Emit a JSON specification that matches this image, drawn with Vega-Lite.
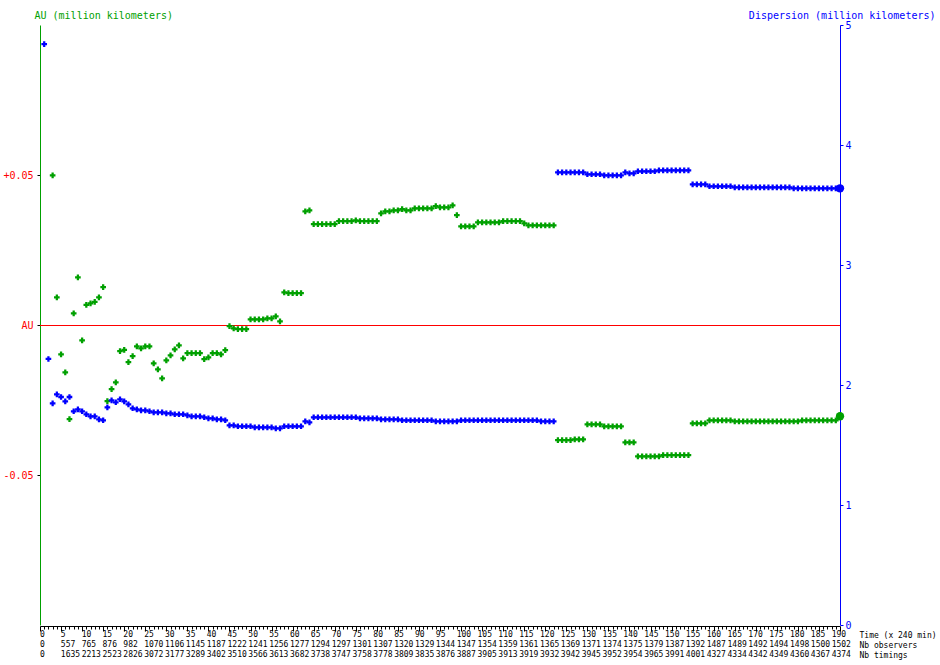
{
  "$schema": "https://vega.github.io/schema/vega-lite/v6.json",
  "width": 800,
  "height": 600,
  "autosize": {"type": "none"},
  "padding": {"left": 40, "top": 25, "right": 100, "bottom": 40},
  "background": "white",
  "config": {"view": {"stroke": null}, "font": "DejaVu Sans Mono"},
  "datasets": {
    "series": [
      {"t":1,"au":null,"disp":4.84},{"t":2,"au":null,"disp":2.217},{"t":3,"au":0.0499,"disp":1.847},{"t":4,"au":0.0092,"disp":1.922},
      {"t":5,"au":-0.0098,"disp":1.9},{"t":6,"au":-0.0158,"disp":1.864},{"t":7,"au":-0.0314,"disp":1.9},{"t":8,"au":0.0039,"disp":1.781},
      {"t":9,"au":0.0159,"disp":1.797},{"t":10,"au":-0.0051,"disp":1.781},{"t":11,"au":0.0067,"disp":1.756},{"t":12,"au":0.0072,"disp":1.739},
      {"t":13,"au":0.0077,"disp":1.739},{"t":14,"au":0.0092,"disp":1.714},{"t":15,"au":0.0126,"disp":1.706},{"t":16,"au":-0.0254,"disp":1.814},
      {"t":17,"au":-0.0214,"disp":1.872},{"t":18,"au":-0.0191,"disp":1.856},{"t":19,"au":-0.0087,"disp":1.881},{"t":20,"au":-0.0083,"disp":1.864},
      {"t":21,"au":-0.0124,"disp":1.839},{"t":22,"au":-0.0104,"disp":1.806},{"t":23,"au":-0.0071,"disp":1.797},{"t":24,"au":-0.0078,"disp":1.789},
      {"t":25,"au":-0.0071,"disp":1.789},{"t":26,"au":-0.0071,"disp":1.781},{"t":27,"au":-0.0128,"disp":1.772},{"t":28,"au":-0.0148,"disp":1.772},
      {"t":29,"au":-0.0178,"disp":1.772},{"t":30,"au":-0.0118,"disp":1.764},{"t":31,"au":-0.0101,"disp":1.764},{"t":32,"au":-0.0081,"disp":1.756},
      {"t":33,"au":-0.0068,"disp":1.756},{"t":34,"au":-0.0111,"disp":1.756},{"t":35,"au":-0.0094,"disp":1.747},{"t":36,"au":-0.0094,"disp":1.739},
      {"t":37,"au":-0.0094,"disp":1.739},{"t":38,"au":-0.0094,"disp":1.739},{"t":39,"au":-0.0114,"disp":1.731},{"t":40,"au":-0.0108,"disp":1.722},
      {"t":41,"au":-0.0094,"disp":1.722},{"t":42,"au":-0.0094,"disp":1.714},{"t":43,"au":-0.0098,"disp":1.714},{"t":44,"au":-0.0084,"disp":1.706},
      {"t":45,"au":-0.0004,"disp":1.664},{"t":46,"au":-0.0011,"disp":1.664},{"t":47,"au":-0.0014,"disp":1.656},{"t":48,"au":-0.0014,"disp":1.656},
      {"t":49,"au":-0.0014,"disp":1.656},{"t":50,"au":0.0019,"disp":1.656},{"t":51,"au":0.0019,"disp":1.647},{"t":52,"au":0.0019,"disp":1.647},
      {"t":53,"au":0.0019,"disp":1.647},{"t":54,"au":0.0022,"disp":1.647},{"t":55,"au":0.0022,"disp":1.647},{"t":56,"au":0.0029,"disp":1.639},
      {"t":57,"au":0.0012,"disp":1.639},{"t":58,"au":0.0109,"disp":1.656},{"t":59,"au":0.0106,"disp":1.656},{"t":60,"au":0.0106,"disp":1.656},
      {"t":61,"au":0.0106,"disp":1.656},{"t":62,"au":0.0106,"disp":1.656},{"t":63,"au":0.0379,"disp":1.697},{"t":64,"au":0.0382,"disp":1.689},
      {"t":65,"au":0.0336,"disp":1.731},{"t":66,"au":0.0336,"disp":1.731},{"t":67,"au":0.0336,"disp":1.731},{"t":68,"au":0.0336,"disp":1.731},
      {"t":69,"au":0.0336,"disp":1.731},{"t":70,"au":0.0336,"disp":1.731},{"t":71,"au":0.0346,"disp":1.731},{"t":72,"au":0.0346,"disp":1.731},
      {"t":73,"au":0.0346,"disp":1.731},{"t":74,"au":0.0346,"disp":1.731},{"t":75,"au":0.0349,"disp":1.731},{"t":76,"au":0.0346,"disp":1.722},
      {"t":77,"au":0.0346,"disp":1.722},{"t":78,"au":0.0346,"disp":1.722},{"t":79,"au":0.0346,"disp":1.722},{"t":80,"au":0.0346,"disp":1.722},
      {"t":81,"au":0.0372,"disp":1.714},{"t":82,"au":0.0379,"disp":1.714},{"t":83,"au":0.0379,"disp":1.714},{"t":84,"au":0.0382,"disp":1.714},
      {"t":85,"au":0.0382,"disp":1.714},{"t":86,"au":0.0386,"disp":1.706},{"t":87,"au":0.0382,"disp":1.706},{"t":88,"au":0.0382,"disp":1.706},
      {"t":89,"au":0.0389,"disp":1.706},{"t":90,"au":0.0389,"disp":1.706},{"t":91,"au":0.0389,"disp":1.706},{"t":92,"au":0.0389,"disp":1.706},
      {"t":93,"au":0.0389,"disp":1.706},{"t":94,"au":0.0396,"disp":1.697},{"t":95,"au":0.0392,"disp":1.697},{"t":96,"au":0.0392,"disp":1.697},
      {"t":97,"au":0.0392,"disp":1.697},{"t":98,"au":0.0399,"disp":1.697},{"t":99,"au":0.0366,"disp":1.697},{"t":100,"au":0.0329,"disp":1.706},
      {"t":101,"au":0.0329,"disp":1.706},{"t":102,"au":0.0329,"disp":1.706},{"t":103,"au":0.0329,"disp":1.706},{"t":104,"au":0.0342,"disp":1.706},
      {"t":105,"au":0.0342,"disp":1.706},{"t":106,"au":0.0342,"disp":1.706},{"t":107,"au":0.0342,"disp":1.706},{"t":108,"au":0.0342,"disp":1.706},
      {"t":109,"au":0.0342,"disp":1.706},{"t":110,"au":0.0346,"disp":1.706},{"t":111,"au":0.0346,"disp":1.706},{"t":112,"au":0.0346,"disp":1.706},
      {"t":113,"au":0.0346,"disp":1.706},{"t":114,"au":0.0346,"disp":1.706},{"t":115,"au":0.0339,"disp":1.706},{"t":116,"au":0.0332,"disp":1.706},
      {"t":117,"au":0.0332,"disp":1.706},{"t":118,"au":0.0332,"disp":1.706},{"t":119,"au":0.0332,"disp":1.697},{"t":120,"au":0.0332,"disp":1.697},
      {"t":121,"au":0.0332,"disp":1.697},{"t":122,"au":0.0332,"disp":1.697},{"t":123,"au":-0.0384,"disp":3.772},{"t":124,"au":-0.0384,"disp":3.772},
      {"t":125,"au":-0.0384,"disp":3.772},{"t":126,"au":-0.0384,"disp":3.772},{"t":127,"au":-0.0381,"disp":3.772},{"t":128,"au":-0.0381,"disp":3.772},
      {"t":129,"au":-0.0381,"disp":3.772},{"t":130,"au":-0.0331,"disp":3.756},{"t":131,"au":-0.0331,"disp":3.756},{"t":132,"au":-0.0331,"disp":3.756},
      {"t":133,"au":-0.0331,"disp":3.756},{"t":134,"au":-0.0338,"disp":3.747},{"t":135,"au":-0.0338,"disp":3.747},{"t":136,"au":-0.0338,"disp":3.747},
      {"t":137,"au":-0.0338,"disp":3.747},{"t":138,"au":-0.0338,"disp":3.747},{"t":139,"au":-0.0391,"disp":3.772},{"t":140,"au":-0.0391,"disp":3.764},
      {"t":141,"au":-0.0391,"disp":3.764},{"t":142,"au":-0.0438,"disp":3.781},{"t":143,"au":-0.0438,"disp":3.781},{"t":144,"au":-0.0438,"disp":3.781},
      {"t":145,"au":-0.0438,"disp":3.781},{"t":146,"au":-0.0438,"disp":3.781},{"t":147,"au":-0.0438,"disp":3.789},{"t":148,"au":-0.0434,"disp":3.789},
      {"t":149,"au":-0.0434,"disp":3.789},{"t":150,"au":-0.0434,"disp":3.789},{"t":151,"au":-0.0434,"disp":3.789},{"t":152,"au":-0.0434,"disp":3.789},
      {"t":153,"au":-0.0434,"disp":3.789},{"t":154,"au":-0.0434,"disp":3.789},{"t":155,"au":-0.0328,"disp":3.672},{"t":156,"au":-0.0328,"disp":3.672},
      {"t":157,"au":-0.0328,"disp":3.672},{"t":158,"au":-0.0328,"disp":3.672},{"t":159,"au":-0.0318,"disp":3.656},{"t":160,"au":-0.0318,"disp":3.656},
      {"t":161,"au":-0.0318,"disp":3.656},{"t":162,"au":-0.0318,"disp":3.656},{"t":163,"au":-0.0318,"disp":3.656},{"t":164,"au":-0.0318,"disp":3.656},
      {"t":165,"au":-0.0321,"disp":3.647},{"t":166,"au":-0.0321,"disp":3.647},{"t":167,"au":-0.0321,"disp":3.647},{"t":168,"au":-0.0321,"disp":3.647},
      {"t":169,"au":-0.0321,"disp":3.647},{"t":170,"au":-0.0321,"disp":3.647},{"t":171,"au":-0.0321,"disp":3.647},{"t":172,"au":-0.0321,"disp":3.647},
      {"t":173,"au":-0.0321,"disp":3.647},{"t":174,"au":-0.0321,"disp":3.647},{"t":175,"au":-0.0321,"disp":3.647},{"t":176,"au":-0.0321,"disp":3.647},
      {"t":177,"au":-0.0321,"disp":3.647},{"t":178,"au":-0.0321,"disp":3.647},{"t":179,"au":-0.0321,"disp":3.639},{"t":180,"au":-0.0321,"disp":3.639},
      {"t":181,"au":-0.0318,"disp":3.639},{"t":182,"au":-0.0318,"disp":3.639},{"t":183,"au":-0.0318,"disp":3.639},{"t":184,"au":-0.0318,"disp":3.639},
      {"t":185,"au":-0.0318,"disp":3.639},{"t":186,"au":-0.0318,"disp":3.639},{"t":187,"au":-0.0318,"disp":3.639},{"t":188,"au":-0.0318,"disp":3.639},
      {"t":189,"au":-0.0318,"disp":3.639},{"t":190,"au":-0.0304,"disp":3.639}
    ],
    "counts": [
      {"t":0,"obs":0,"tim":0},{"t":5,"obs":557,"tim":1635},{"t":10,"obs":765,"tim":2213},{"t":15,"obs":876,"tim":2523},
      {"t":20,"obs":982,"tim":2826},{"t":25,"obs":1070,"tim":3072},{"t":30,"obs":1106,"tim":3177},{"t":35,"obs":1145,"tim":3289},
      {"t":40,"obs":1187,"tim":3402},{"t":45,"obs":1222,"tim":3510},{"t":50,"obs":1241,"tim":3566},{"t":55,"obs":1256,"tim":3613},
      {"t":60,"obs":1277,"tim":3682},{"t":65,"obs":1294,"tim":3738},{"t":70,"obs":1297,"tim":3747},{"t":75,"obs":1301,"tim":3758},
      {"t":80,"obs":1307,"tim":3778},{"t":85,"obs":1320,"tim":3809},{"t":90,"obs":1329,"tim":3835},{"t":95,"obs":1344,"tim":3876},
      {"t":100,"obs":1347,"tim":3887},{"t":105,"obs":1354,"tim":3905},{"t":110,"obs":1359,"tim":3913},{"t":115,"obs":1361,"tim":3919},
      {"t":120,"obs":1365,"tim":3932},{"t":125,"obs":1369,"tim":3942},{"t":130,"obs":1371,"tim":3945},{"t":135,"obs":1374,"tim":3952},
      {"t":140,"obs":1375,"tim":3954},{"t":145,"obs":1379,"tim":3965},{"t":150,"obs":1387,"tim":3991},{"t":155,"obs":1392,"tim":4001},
      {"t":160,"obs":1487,"tim":4327},{"t":165,"obs":1489,"tim":4334},{"t":170,"obs":1492,"tim":4342},{"t":175,"obs":1494,"tim":4349},
      {"t":180,"obs":1498,"tim":4360},{"t":185,"obs":1500,"tim":4367},{"t":190,"obs":1502,"tim":4374}
    ]
  },
  "layer": [
    {
      "encoding": {
        "x": {
          "field": "t",
          "type": "quantitative",
          "scale": {"domain": [0, 190], "nice": false, "zero": false},
          "axis": {
            "orient": "bottom",
            "offset": 1,
            "tickCount": 190,
            "labels": false,
            "domainColor": "black",
            "tickColor": "black",
            "tickSize": {"condition": {"test": "datum.value % 5 == 0", "value": 5}, "value": 3},
            "grid": false,
            "title": ["Time (x 240 min)", "Nb observers", "Nb timings"],
            "titleFont": "DejaVu Sans Mono",
            "titleFontSize": 8,
            "titleFontWeight": "normal",
            "titleColor": "black",
            "titleAlign": "left",
            "titleAnchor": "start",
            "titleBaseline": "alphabetic",
            "titleAngle": 0,
            "titleX": 819,
            "titleY": 11,
            "titleLineHeight": 10
          }
        }
      },
      "layer": [
        {
          "encoding": {
            "y": {
              "field": "au",
              "type": "quantitative",
              "scale": {"domain": [-0.1, 0.1], "nice": false, "zero": false},
              "axis": {
                "orient": "left",
                "values": [-0.05, 0, 0.05],
                "labelExpr": "datum.value == 0 ? 'AU' : (datum.value > 0 ? '+' : '-') + format(abs(datum.value), '.2f')",
                "domainColor": "#00a000",
                "tickColor": "black",
                "tickSize": 3,
                "labelColor": "#ff0000",
                "labelFont": "DejaVu Sans Mono",
                "labelFontSize": 10,
                "labelPadding": 4,
                "grid": false,
                "title": "AU (million kilometers)",
                "titleColor": "#00a000",
                "titleFont": "DejaVu Sans Mono",
                "titleFontSize": 10,
                "titleFontWeight": "normal",
                "titleAngle": 0,
                "titleAlign": "left",
                "titleBaseline": "alphabetic",
                "titleX": -6,
                "titleY": -7
              }
            }
          },
          "layer": [
            {
              "data": {"values": [{"t": 0, "t2": 190, "au": 0}]},
              "mark": {"type": "rule", "color": "#ff0000", "strokeWidth": 1, "yOffset": 0.5},
              "encoding": {"x2": {"field": "t2"}}
            },
            {
              "data": {"name": "series"},
              "transform": [{"filter": "datum.t < 190 && isValid(datum.au)"}],
              "mark": {"type": "point", "shape": "cross", "filled": true, "size": 32, "color": "#00a000", "opacity": 1}
            },
            {
              "data": {"name": "series"},
              "transform": [{"filter": "datum.t == 190"}],
              "mark": {"type": "circle", "size": 70, "color": "#00a000", "opacity": 1}
            }
          ]
        },
        {
          "data": {"name": "series"},
          "encoding": {
            "y": {
              "field": "disp",
              "type": "quantitative",
              "scale": {"domain": [0, 5], "nice": false, "zero": true},
              "axis": {
                "orient": "right",
                "values": [0, 1, 2, 3, 4, 5],
                "domainColor": "#0000ff",
                "tickColor": "#0000ff",
                "tickSize": 3,
                "labelColor": "#0000ff",
                "labelFont": "DejaVu Sans Mono",
                "labelFontSize": 10,
                "labelPadding": 2,
                "grid": false,
                "title": "Dispersion (million kilometers)",
                "titleColor": "#0000ff",
                "titleFont": "DejaVu Sans Mono",
                "titleFontSize": 10,
                "titleFontWeight": "normal",
                "titleAngle": 0,
                "titleAlign": "right",
                "titleBaseline": "alphabetic",
                "titleX": 95,
                "titleY": -7
              }
            }
          },
          "layer": [
            {
              "transform": [{"filter": "datum.t < 190"}],
              "mark": {"type": "point", "shape": "cross", "filled": true, "size": 32, "color": "#0000ff", "opacity": 1}
            },
            {
              "transform": [{"filter": "datum.t == 190"}],
              "mark": {"type": "circle", "size": 70, "color": "#0000ff", "opacity": 1}
            }
          ]
        }
      ],
      "resolve": {"scale": {"y": "independent"}}
    },
    {
      "data": {"name": "counts"},
      "encoding": {
        "x": {"field": "t", "type": "quantitative", "scale": {"domain": [0, 192], "nice": false, "zero": false}, "axis": null}
      },
      "layer": [
        {
          "mark": {"type": "text", "align": "left", "baseline": "alphabetic", "font": "DejaVu Sans Mono", "fontSize": 8, "color": "black", "y": "height", "dy": 12},
          "encoding": {"text": {"field": "t", "type": "quantitative", "format": "d"}}
        },
        {
          "mark": {"type": "text", "align": "left", "baseline": "alphabetic", "font": "DejaVu Sans Mono", "fontSize": 8, "color": "black", "y": "height", "dy": 22},
          "encoding": {"text": {"field": "obs", "type": "quantitative", "format": "d"}}
        },
        {
          "mark": {"type": "text", "align": "left", "baseline": "alphabetic", "font": "DejaVu Sans Mono", "fontSize": 8, "color": "black", "y": "height", "dy": 32},
          "encoding": {"text": {"field": "tim", "type": "quantitative", "format": "d"}}
        }
      ]
    }
  ],
  "resolve": {"scale": {"x": "independent"}}
}
